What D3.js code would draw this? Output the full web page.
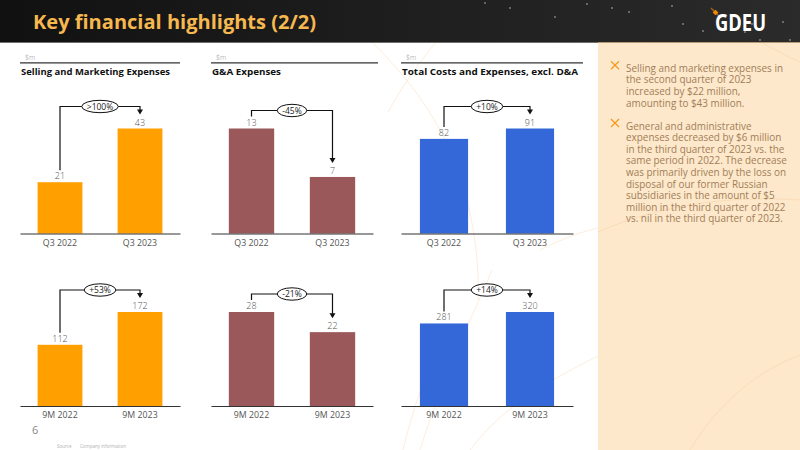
<!DOCTYPE html>
<html><head><meta charset="utf-8">
<script src="https://cdn.jsdelivr.net/npm/d3@7"></script>
<style>
html,body{margin:0;padding:0;background:#fff;}
svg{display:block;}
text{font-family:"Open Sans","Lato",sans-serif;}
</style></head>
<body>
<svg id="c" width="800" height="450"></svg>
<script>
// ---------- data ----------
const slideTitle = "Key financial highlights (2/2)";
const unitLabel = "$m";
const panelTitles = ["Selling and Marketing Expenses", "G&A Expenses", "Total Costs and Expenses, excl. D&A"];
const categoriesQ = ["Q3 2022", "Q3 2023"];
const categories9M = ["9M 2022", "9M 2023"];
const sellingQ3 = [21, 43];
const gaQ3 = [13, 7];
const totalQ3 = [82, 91];
const selling9M = [112, 172];
const ga9M = [28, 22];
const total9M = [281, 320];
const changeQ3 = [">100%", "-45%", "+10%"];
const change9M = ["+53%", "-21%", "+14%"];
const bullet1 = ["Selling and marketing expenses in", "the second quarter of 2023", "increased by $22 million,", "amounting to $43 million."];
const bullet2 = ["General and administrative", "expenses decreased by $6 million", "in the third quarter of 2023 vs. the", "same period in 2022. The decrease", "was primarily driven by the loss on", "disposal of our former Russian", "subsidiaries in the amount of $5", "million in the third quarter of 2022", "vs. nil in the third quarter of 2023."];
const pageNumber = "6";
const sourceLabel = "Source";
const sourceText = "Company information";

// ---------- layout / style ----------
const svg = d3.select("#c");
const W = 800, H = 450;
const colors = ["#ff9f00", "#9a585b", "#3468d8"];
const panelX = [[20, 180], [211, 373], [401, 573]];
const ruleX = [[20, 180], [211, 378], [401, 583]];
const titleW = [149, 69, 176];
const offs = [22, 18, 22];

const defs = svg.append("defs");
const hg = defs.append("linearGradient").attr("id", "hg").attr("x1", 0).attr("x2", 1).attr("y1", 0).attr("y2", 0);
hg.append("stop").attr("offset", "0%").attr("stop-color", "#111111");
hg.append("stop").attr("offset", "100%").attr("stop-color", "#2b2b2b");

// background
svg.append("rect").attr("width", W).attr("height", H).attr("fill", "#ffffff");
svg.append("rect").attr("x", 598).attr("y", 42).attr("width", 202).attr("height", 408).attr("fill", "#fde8cb");

// faint decorative curves
const deco = svg.append("g").attr("fill", "none").attr("stroke", "#fdeedb").attr("stroke-width", 1);
deco.append("path").attr("d", "M372,42 C410,80 440,120 458,170 C472,210 480,260 478,300");
deco.append("path").attr("d", "M388,112 C400,90 415,68 436,42");
deco.append("path").attr("d", "M492,270 C482,295 474,310 466,330 C450,370 432,410 420,450");
deco.append("path").attr("d", "M403,450 C410,420 420,390 432,360");
deco.append("path").attr("d", "M470,450 C500,410 540,385 598,356");
deco.append("path").attr("d", "M540,250 C560,240 580,232 598,228");
const deco2 = svg.append("g").attr("fill", "none").attr("stroke", "#fadcb8").attr("stroke-width", 1);
deco2.append("path").attr("d", "M598,232 C660,205 730,195 800,200");
deco2.append("path").attr("d", "M760,42 C780,52 790,58 800,62");
deco2.append("path").attr("d", "M690,450 C720,400 760,370 800,355");

// header
svg.append("rect").attr("width", W).attr("height", 42).attr("fill", "url(#hg)");
svg.append("line").attr("x1", 0).attr("x2", 598).attr("y1", 42.5).attr("y2", 42.5).attr("stroke", "#6e6e6e").attr("stroke-width", 1);
svg.append("line").attr("x1", 598).attr("x2", 800).attr("y1", 42.5).attr("y2", 42.5).attr("stroke", "#b59a78").attr("stroke-width", 1);
const stars = [[510,8],[587,4],[612,8],[629,12],[683,24],[703,31],[745,32],[752,24],[783,22],[790,40],[760,40],[672,6],[555,17],[485,3]];
svg.append("g").selectAll("circle").data(stars).join("circle")
  .attr("cx", d => d[0]).attr("cy", d => d[1]).attr("r", 0.7).attr("fill", "#dddddd");
svg.append("text").attr("x", 33).attr("y", 29).text(slideTitle)
  .attr("font-size", 20).attr("font-weight", 700).attr("fill", "#f6b84f")
  .attr("textLength", 283).attr("lengthAdjust", "spacingAndGlyphs");
// logo
svg.append("line").attr("x1", 711).attr("y1", 8).attr("x2", 720).attr("y2", 17).attr("stroke", "#a86a20").attr("stroke-width", 1.2);
svg.append("rect").attr("x", 713.5).attr("y", 10.5).attr("width", 4).attr("height", 4).attr("fill", "#f08a00").attr("transform", "rotate(45,715.5,12.5)");
svg.append("text").attr("x", 715).attr("y", 31).text("GDEU")
  .attr("font-family", "DejaVu Sans Mono, monospace").attr("font-size", 24).attr("font-weight", 700).attr("fill", "#ffffff")
  .attr("textLength", 51).attr("lengthAdjust", "spacingAndGlyphs");

// ---------- panels ----------
const rows = [
  { cats: categoriesQ, series: [sellingQ3, gaQ3, totalQ3], changes: changeQ3, y0: 233.5, yTop: 128.5 },
  { cats: categories9M, series: [selling9M, ga9M, total9M], changes: change9M, y0: 406, yTop: 312 }
];

// panel headers
panelTitles.forEach((t, i) => {
  const g = svg.append("g");
  g.append("text").attr("x", ruleX[i][0] + 5).attr("y", 60).text(unitLabel)
    .attr("font-size", 7).attr("fill", "#9a9a9a").attr("font-weight", 300);
  g.append("line").attr("x1", ruleX[i][0]).attr("x2", ruleX[i][1]).attr("y1", 62.8).attr("y2", 62.8)
    .attr("stroke", "#333").attr("stroke-width", 1.2);
  g.append("text").attr("x", ruleX[i][0] + 1).attr("y", 75).text(t)
    .attr("font-size", 9).attr("font-weight", 700).attr("fill", "#111")
    .attr("textLength", titleW[i]).attr("lengthAdjust", "spacingAndGlyphs");
});

rows.forEach(row => {
  row.series.forEach((vals, i) => {
    const g = svg.append("g");
    const x = d3.scaleBand().domain(row.cats).range(panelX[i]).paddingInner(0.44).paddingOuter(0.22);
    const y = d3.scaleLinear().domain([0, d3.max(vals)]).range([row.y0, row.yTop]);
    const data = row.cats.map((c, k) => ({ c, v: vals[k] }));
    g.selectAll("rect.bar").data(data).join("rect").attr("class", "bar")
      .attr("x", d => x(d.c)).attr("width", x.bandwidth())
      .attr("y", d => y(d.v)).attr("height", d => y(0) - y(d.v))
      .attr("fill", colors[i]);
    g.selectAll("text.val").data(data).join("text").attr("class", "val")
      .attr("x", d => x(d.c) + x.bandwidth() / 2).attr("y", d => y(d.v) - 3)
      .attr("text-anchor", "middle").attr("font-size", 9).attr("font-weight", 300).attr("fill", "#555")
      .text(d => d.v);
    const ax = g.append("g").attr("transform", `translate(0,${row.y0})`)
      .call(d3.axisBottom(x).tickSize(0).tickPadding(6));
    ax.select(".domain").attr("stroke", "#333").attr("stroke-width", 1.2);
    ax.selectAll("text").attr("font-size", 8.8).attr("fill", "#555").attr("font-family", '"Open Sans","Lato",sans-serif');

    // bracket
    const lx = x(row.cats[0]) + x.bandwidth() / 2;
    const rx = x(row.cats[1]) + x.bandwidth() / 2;
    const yL = y(vals[0]), yR = y(vals[1]);
    const by = Math.min(yL, yR) - offs[i];
    const tip = yR - 14;
    g.append("path").attr("d", `M${lx},${yL - 12}V${by}H${rx}V${tip - 4}`)
      .attr("fill", "none").attr("stroke", "#111").attr("stroke-width", 1.2);
    g.append("path").attr("d", `M${rx - 3},${tip - 5}L${rx + 3},${tip - 5}L${rx},${tip}Z`).attr("fill", "#111");
    const cx = (lx + rx) / 2;
    const ell = g.append("ellipse").attr("cx", cx).attr("cy", by).attr("ry", 6.2)
      .attr("fill", "#fff").attr("stroke", "#111").attr("stroke-width", 1);
    const lt = g.append("text").attr("x", cx).attr("y", by + 3).attr("text-anchor", "middle")
      .attr("font-size", 8.5).attr("fill", "#222").text(row.changes[i]);
    const bw = lt.node().getComputedTextLength();
    ell.attr("rx", bw / 2 + 5);
  });
});

// ---------- right panel text ----------
const textFont = 10.2;
let stretch = 1;
{
  const probe = svg.append("text").attr("font-size", textFont).text(bullet1[0]);
  stretch = 157 / probe.node().getComputedTextLength();
  probe.remove();
}
function bullet(lines, y0) {
  const g = svg.append("g");
  const bx = 615, byy = y0 - 3;
  g.append("line").attr("x1", bx - 4).attr("y1", byy - 4).attr("x2", bx + 4).attr("y2", byy + 4).attr("stroke", "#f59a1c").attr("stroke-width", 1.3);
  g.append("line").attr("x1", bx - 4).attr("y1", byy + 4).attr("x2", bx + 4).attr("y2", byy - 4).attr("stroke", "#f59a1c").attr("stroke-width", 1.3);
  g.selectAll("text").data(lines).join("text")
    .attr("x", 626).attr("y", (d, k) => y0 + 3.5 + k * 11.6)
    .attr("font-size", textFont).attr("fill", "#a27d57").text(d => d)
    .each(function () {
      const w = this.getComputedTextLength();
      d3.select(this).attr("textLength", Math.min(w * stretch, 168)).attr("lengthAdjust", "spacingAndGlyphs");
    });
}
bullet(bullet1, 68.3);
bullet(bullet2, 126);

// footer
svg.append("text").attr("x", 32).attr("y", 434).text(pageNumber).attr("font-size", 11).attr("fill", "#888");
svg.append("text").attr("x", 57).attr("y", 448).text(sourceLabel).attr("font-size", 4.5).attr("fill", "#b0b0b0");
svg.append("text").attr("x", 80).attr("y", 448).text(sourceText).attr("font-size", 4.5).attr("fill", "#b0b0b0");
</script>
</body></html>
